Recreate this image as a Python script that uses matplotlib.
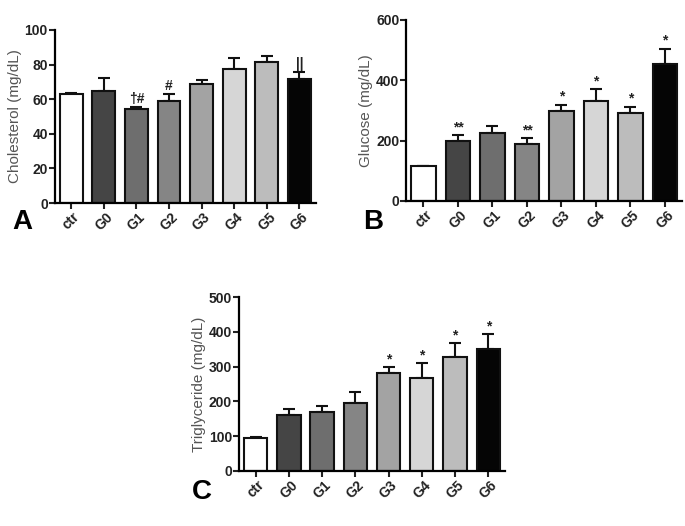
import numpy as np
import matplotlib.pyplot as plt

plt.rcParams['font.family'] = ['Liberation Sans Narrow', 'Liberation Sans', 'DejaVu Sans']

groups = ['ctr', 'G0', 'G1', 'G2', 'G3', 'G4', 'G5', 'G6']
colors = ['#ffffff', '#454545', '#6e6e6e', '#858585', '#a3a3a3', '#d6d6d6', '#bcbcbc', '#050505']

chol = [63, 65, 54.5, 59, 69, 77.5, 81.5, 71.5]
chol_err = [0.5, 7, 1, 4, 2, 6.5, 3.5, 4.5]
chol_sig = ['', '', '†#', '#', '', '', '', '||']

gluc = [115, 198, 226, 188, 297, 330, 293, 455]
gluc_err = [0, 20, 22, 20, 22, 40, 20, 50]
gluc_sig = ['', '**', '', '**', '*', '*', '*', '*']

trig = [95, 160, 168, 196, 282, 267, 327, 352]
trig_err = [2, 18, 20, 30, 16, 42, 40, 42]
trig_sig = ['', '', '', '', '*', '*', '*', '*']


def panel(ax, vals, errs, sigs, ylabel, ymax, step, letter, lx, ly):
    x = np.arange(len(groups))
    ax.bar(x, vals, width=0.7, color=colors, edgecolor='#111111', linewidth=1.5, zorder=2)
    ax.errorbar(x, vals, yerr=[np.zeros(len(errs)), errs], fmt='none', ecolor='#111111',
                elinewidth=1.5, capsize=4, capthick=1.5, zorder=1)
    for xi, v, e, s in zip(x, vals, errs, sigs):
        if s:
            ax.text(xi, v + e + ymax * 0.005, s, ha='center', va='bottom', fontsize=10,
                    color='#222222', fontweight='bold')
    ax.set_xlim(-0.5, 7.5)
    ax.set_ylim(0, ymax)
    ax.set_yticks(np.arange(0, ymax + 1, step))
    ax.set_xticks(x)
    ax.set_xticklabels(groups, rotation=45, ha='center', fontweight='bold', fontsize=10)
    for lab in ax.get_yticklabels():
        lab.set_fontweight('bold')
        lab.set_fontsize(10)
    ax.set_ylabel(ylabel, fontsize=11, color='#555555', labelpad=2)
    for sp in ['top', 'right']:
        ax.spines[sp].set_visible(False)
    for sp in ['left', 'bottom']:
        ax.spines[sp].set_linewidth(1.6)
    ax.tick_params(direction='out', width=1.5, length=4, colors='#222222', pad=1)
    ax.figure.text(lx, ly, letter, fontsize=20, fontweight='bold', ha='center', va='center')


fig = plt.figure(figsize=(6.85, 5.26), dpi=100)
axA = fig.add_axes([0.080, 0.614, 0.381, 0.329])
axB = fig.add_axes([0.593, 0.618, 0.403, 0.344])
axC = fig.add_axes([0.349, 0.105, 0.388, 0.330])

panel(axA, chol, chol_err, chol_sig, 'Cholesterol (mg/dL)', 100, 20, 'A', 0.032, 0.577)
panel(axB, gluc, gluc_err, gluc_sig, 'Glucose (mg/dL)', 600, 200, 'B', 0.545, 0.577)
panel(axC, trig, trig_err, trig_sig, 'Triglyceride (mg/dL)', 500, 100, 'C', 0.295, 0.065)

fig.savefig('out.png', dpi=100)
